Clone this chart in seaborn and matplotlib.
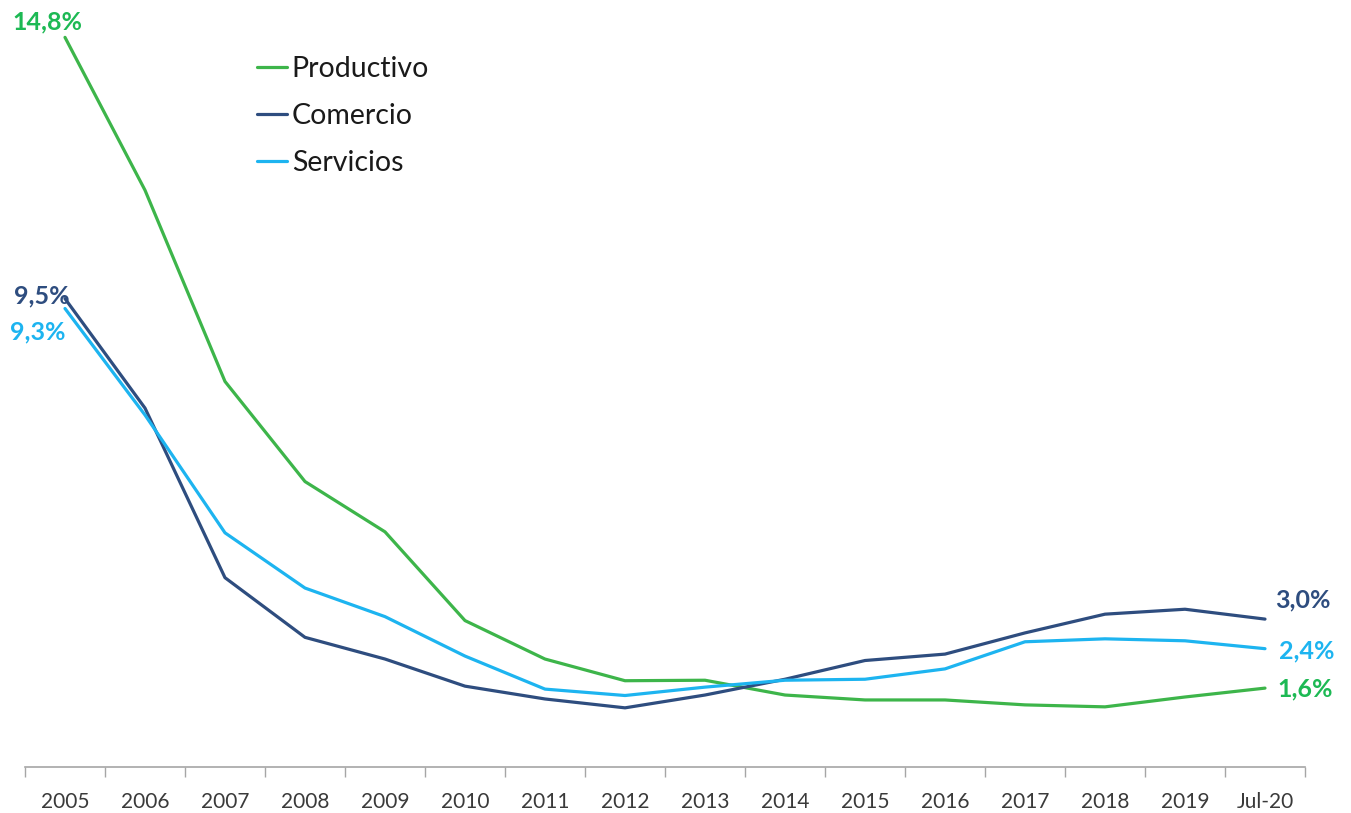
import matplotlib
matplotlib.use("Agg")
import matplotlib.pyplot as plt
import seaborn as sns
import pandas as pd
import numpy as np

# Periods on the horizontal axis
periods = ["2005", "2006", "2007", "2008", "2009", "2010", "2011", "2012",
           "2013", "2014", "2015", "2016", "2017", "2018", "2019", "Jul-20"]

# Rates by sector (%)
productivo = [14.8, 11.7, 7.82, 5.79, 4.77, 2.97, 2.19, 1.75,
              1.76, 1.46, 1.36, 1.36, 1.26, 1.22, 1.42, 1.6]
comercio = [9.5, 7.28, 3.84, 2.63, 2.19, 1.64, 1.38, 1.20,
            1.46, 1.78, 2.16, 2.29, 2.72, 3.10, 3.20, 3.0]
servicios = [9.3, 7.14, 4.75, 3.63, 3.05, 2.25, 1.58, 1.45,
             1.62, 1.76, 1.78, 1.99, 2.54, 2.60, 2.56, 2.4]

series_names = ["Productivo", "Comercio", "Servicios"]
colors = {"Productivo": "#3DB54A", "Comercio": "#2E4D7F", "Servicios": "#1DB4F0"}
label_colors = {"Productivo": "#1DB954", "Comercio": "#2E4D7F", "Servicios": "#1DB4F0"}

df = pd.DataFrame({
    "periodo": periods * 3,
    "pos": list(range(len(periods))) * 3,
    "valor": productivo + comercio + servicios,
    "sector": sum([[n] * len(periods) for n in series_names], []),
})

sns.set_theme(style="white")
plt.rcParams["font.family"] = ["Lato", "DejaVu Sans"]

fig = plt.figure(figsize=(13.51, 8.13), dpi=100)
ax = fig.add_axes([25 / 1351, 1 - 767 / 813, (1305 - 25) / 1351, 767 / 813])

sns.lineplot(data=df, x="pos", y="valor", hue="sector", hue_order=series_names,
             palette=colors, linewidth=2.3, ax=ax, legend=True)

ax.set_xlim(-0.5, len(periods) - 0.5)
ax.set_ylim(0, 767 / 49.3)
ax.set_xlabel("")
ax.set_ylabel("")
ax.set_yticks([])

# Category labels centred, tick marks on the boundaries
ax.set_xticks(range(len(periods)))
ax.set_xticklabels(periods, fontsize=15, color="#3a3a3a")
ax.set_xticks(np.arange(-0.5, len(periods)), minor=True)
ax.tick_params(axis="x", which="major", length=0, pad=18)
ax.tick_params(axis="x", which="minor", length=7, width=1, color="#a6a6a6",
               direction="out", bottom=True)

for side in ["top", "right", "left"]:
    ax.spines[side].set_visible(False)
ax.spines["bottom"].set_color("#a6a6a6")
ax.spines["bottom"].set_linewidth(1.2)

# Legend
handles, labels = ax.get_legend_handles_labels()
leg = ax.legend(handles, labels, loc="upper left",
                bbox_to_anchor=(231 / 1351, 1 - 30 / 813), bbox_transform=fig.transFigure,
                frameon=False, fontsize=20.5, handlelength=1.05, handletextpad=0.18,
                labelspacing=0.74)
for t in leg.get_texts():
    t.set_color("#1a1a1a")

# Value labels at both ends
px = 0.72
def tag(x, y, text, color, dx, dy, ha):
    ax.annotate(text, xy=(x, y), xytext=(dx * px, dy * px), textcoords="offset points",
                ha=ha, va="center", fontsize=18, fontweight="bold", color=color)

last = len(periods) - 1
tag(0, productivo[0], "14,8%", label_colors["Productivo"], -18, 15, "center")
tag(0, comercio[0], "9,5%", label_colors["Comercio"], -23, 3, "center")
tag(0, servicios[0], "9,3%", label_colors["Servicios"], -27, -23, "center")
tag(last, comercio[-1], "3,0%", label_colors["Comercio"], 10, 19, "left")
tag(last, servicios[-1], "2,4%", label_colors["Servicios"], 14, -2, "left")
tag(last, productivo[-1], "1,6%", label_colors["Productivo"], 12, -1, "left")

fig.savefig("out.png", dpi=100)
